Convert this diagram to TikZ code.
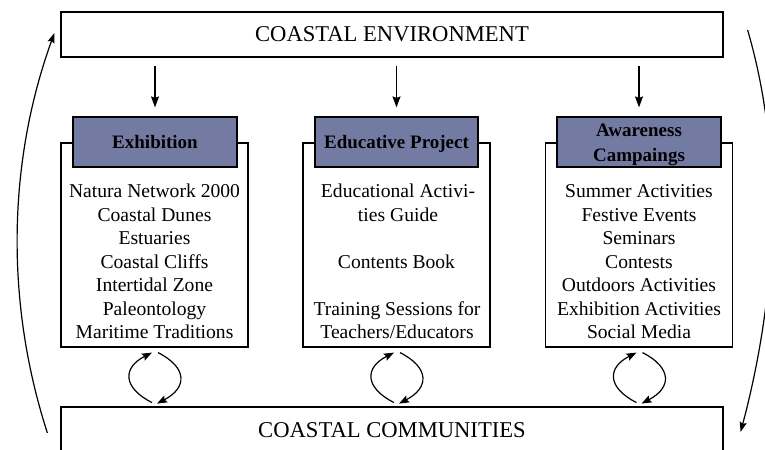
\documentclass[tikz,border=0pt]{standalone}
\usepackage{fontspec}
\setmainfont{Liberation Serif}
\usetikzlibrary{arrows.meta}
\definecolor{hdrfill}{RGB}{116,123,163}
\tikzset{
  box/.style={draw=black, line width=1.2bp, fill=white, inner sep=0pt},
  bigbox/.style={box, minimum width=662bp, font=\fontsize{22.6bp}{26bp}\selectfont},
  contentbox/.style={box, minimum width=187bp, minimum height=204bp},
  hdrbox/.style={box, fill=hdrfill, minimum width=164bp, minimum height=50bp, align=center,
    font=\fontsize{19bp}{25bp}\selectfont\bfseries},
  hdrone/.style={hdrbox, text height=14bp, text depth=0bp},
  item/.style={anchor=base, inner sep=0pt, font=\fontsize{19.6bp}{23.5bp}\selectfont},
  downarr/.style={line width=1.2bp, -{Stealth[length=11bp,width=8bp,inset=1.5bp]}},
  looparr/.style={line width=1.2bp, -{Stealth[length=10bp,width=7bp,inset=1.5bp]}},
  carr/.style={line width=1.2bp, -{Stealth[length=10bp,width=7.5bp,inset=1.5bp]}},
}
\begin{document}
\begin{tikzpicture}[x=1bp,y=1bp]
\useasboundingbox (0,0) rectangle (765,450);
\clip (0,0) rectangle (765,450);

% big boxes
\node[bigbox, minimum height=45bp] (env) at (392,415.5) {COASTAL ENVIRONMENT};
\node[bigbox, minimum height=46bp] (comm) at (392,20) {COASTAL COMMUNITIES};

% content boxes
\node[contentbox] (exc) at (154.5,205) {};
\node[contentbox] (edc) at (396.5,205) {};
\node[contentbox] (awc) at (639,205) {};

% headers
\node[hdrone] (exh) at (155,308) {Exhibition};
\node[hdrone, minimum width=163bp] (edh) at (396.5,308) {Educative Project};
\node[hdrbox] (awh) at (639,308) {\rule{0pt}{19bp}Awareness\\Campaings};

% exhibition items
\node[item] (e1) at (154.5,252) {Natura Network 2000};
\node[item] (e2) at (154.5,228.5) {Coastal Dunes};
\node[item] (e3) at (154.5,205) {Estuaries};
\node[item] (e4) at (154.5,181.5) {Coastal Cliffs};
\node[item] (e5) at (154.5,158) {Intertidal Zone};
\node[item] (e6) at (154.5,134.5) {Paleontology};
\node[item] (e7) at (154.5,111) {Maritime Traditions};

% educative project items
\node[item] (d1) at (398,252) {Educational Activi-};
\node[item] (d2) at (398,228.5) {ties Guide};
\node[item] (d4) at (396.5,181.5) {Contents Book};
\node[item] (d6) at (397,134.5) {Training Sessions for};
\node[item] (d7) at (397,111) {Teachers/Educators};

% awareness items
\node[item] (a1) at (639,252) {Summer Activities};
\node[item] (a2) at (639,228.5) {Festive Events};
\node[item] (a3) at (639,205) {Seminars};
\node[item] (a4) at (639,181.5) {Contests};
\node[item] (a5) at (639,158) {Outdoors Activities};
\node[item] (a6) at (639,134.5) {Exhibition Activities};
\node[item] (a7) at (639,111) {Social Media};

% down arrows
\foreach \h in {exh,edh,awh}{
  \draw[downarr] ([yshift=-8bp]env.south -| \h.north) -- ([yshift=9bp]\h.north);
}

% big loop arrows
\draw[looparr] ([shift={(-13,-3)}]comm.west) .. controls +(-43,133) and +(-46,-127) .. ([shift={(-6,1.5)}]env.west);
\draw[looparr] ([shift={(24,4.5)}]env.east) .. controls +(38,-130) and +(35,132) .. ([shift={(17,-2)}]comm.east);

% circular arrows
\foreach \b in {exc,edc,awc}{
  \draw[carr] ([shift={(-2.5,-55)}]\b.south) .. controls +(-29.5,15) and +(-29.5,-15) .. ([shift={(-2.5,-5)}]\b.south);
  \draw[carr] ([shift={(3.5,-5)}]\b.south) .. controls +(29.5,-15) and +(30.5,16) .. ([shift={(2.5,-56)}]\b.south);
}
\end{tikzpicture}
\end{document}
